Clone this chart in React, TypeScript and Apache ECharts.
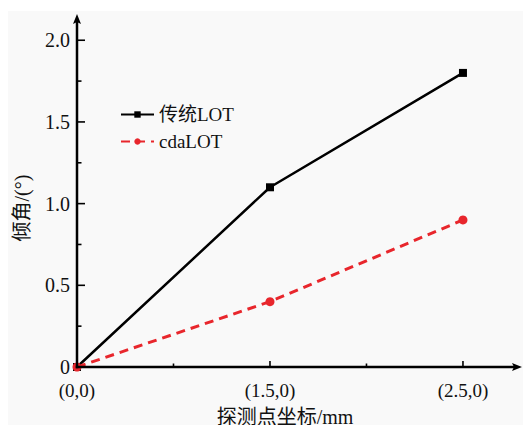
import React, { useEffect, useRef } from "react";
import * as echarts from "echarts";

const xCategories = ["(0,0)", "(1.5,0)", "(2.5,0)"];
const seriesNames = ["传统LOT", "cdaLOT"];
const traditionalValues = [0, 1.1, 1.8];
const cdaValues = [0, 0.4, 0.9];
const yMajorTicks = [0, 0.5, 1.0, 1.5, 2.0];
const yMinorTicks = [0.25, 0.75, 1.25, 1.75];
const xMajorTicks = [0, 1, 2];
const xMinorTicks = [0.5, 1.5];
const yAxisName = "倾角/(°)";
const xAxisName = "探测点坐标/mm";

const FONT = "'Liberation Serif', 'Times New Roman', 'Noto Sans CJK SC', serif";

const OX = 8;
const OY = 11;
const X_MAX = 2.28;
const Y_MAX = 2.13;

export default function App() {
  const ref = useRef<HTMLDivElement>(null);
  useEffect(() => {
    if (!ref.current) return;
    const chart = echarts.init(ref.current, null, { renderer: "svg" });
    const toData = (vals: number[]) => xCategories.map((_, i) => [i, vals[i]]);
    chart.setOption({
      animation: false,
      backgroundColor: "#f9f9f9",
      textStyle: { fontFamily: FONT },
      grid: { left: 77 - OX, right: 6, top: 19 - OY, bottom: 58 },
      legend: {
        orient: "vertical",
        left: 115 - OX,
        top: 100 - OY,
        itemWidth: 33,
        itemHeight: 8,
        itemGap: 8,
        textStyle: { fontFamily: FONT, fontSize: 19, color: "#111", lineHeight: 19 },
        data: seriesNames,
      },
      xAxis: {
        type: "value",
        min: 0,
        max: X_MAX,
        splitLine: { show: false },
        axisLine: { show: false },
        axisTick: { show: false },
        axisLabel: {
          show: true,
          customValues: xMajorTicks,
          margin: 14,
          fontFamily: FONT,
          fontSize: 19,
          color: "#111",
          formatter: (v: number) => xCategories[Math.round(v)] ?? "",
        },
      },
      yAxis: {
        type: "value",
        min: 0,
        max: Y_MAX,
        splitLine: { show: false },
        axisLine: { show: false },
        axisTick: { show: false },
        axisLabel: {
          show: true,
          customValues: yMajorTicks,
          margin: 7,
          fontFamily: FONT,
          fontSize: 20,
          color: "#111",
          formatter: (v: number) => (v === 0 ? "0" : v.toFixed(1)),
        },
      },
      series: [
        {
          name: seriesNames[0],
          type: "line",
          data: toData(traditionalValues),
          symbol: "rect",
          symbolSize: 8,
          color: "#000",
          lineStyle: { color: "#000", width: 2.5 },
          itemStyle: { color: "#000" },
          z: 3,
        },
        {
          name: seriesNames[1],
          type: "line",
          data: toData(cdaValues),
          symbol: "circle",
          symbolSize: 9,
          color: "#e8262c",
          lineStyle: { color: "#e8262c", width: 3, type: [9, 6] },
          itemStyle: { color: "#e8262c" },
          z: 3,
        },
      ],
    });

    // axis lines, ticks and arrows, positioned through the chart's own scales
    const px = (x: number, y: number) =>
      chart.convertToPixel({ xAxisIndex: 0, yAxisIndex: 0 }, [x, y]) as number[];
    const [x0, y0] = px(0, 0);
    const [, yTop] = px(0, Y_MAX);
    const [xEnd] = px(X_MAX, 0);
    const black = "#000000";
    const lineEl = (x1: number, y1: number, x2: number, y2: number, w: number) => ({
      type: "line",
      z: 10,
      silent: true,
      shape: { x1, y1, x2, y2 },
      style: { stroke: black, lineWidth: w },
    });
    const els: any[] = [];
    els.push(lineEl(x0, y0 + 1.25, x0, yTop, 2.5));
    els.push(lineEl(x0 - 1.25, y0, xEnd, y0, 2.5));
    els.push({
      type: "polygon",
      z: 10,
      silent: true,
      shape: { points: [[x0, yTop - 5], [x0 - 4, yTop + 5], [x0, yTop + 3], [x0 + 4, yTop + 5]] },
      style: { fill: black },
    });
    els.push({
      type: "polygon",
      z: 10,
      silent: true,
      shape: { points: [[xEnd + 5, y0], [xEnd - 5, y0 - 4], [xEnd - 3, y0], [xEnd - 5, y0 + 4]] },
      style: { fill: black },
    });
    yMajorTicks.forEach((v) => {
      const [, py] = px(0, v);
      if (v > 0) els.push(lineEl(x0, py, x0 + 8, py, 1.6));
    });
    yMinorTicks.forEach((v) => {
      const [, py] = px(0, v);
      els.push(lineEl(x0, py, x0 + 4.5, py, 1.6));
    });
    xMajorTicks.forEach((v) => {
      const [qx] = px(v, 0);
      if (v > 0) els.push(lineEl(qx, y0, qx, y0 - 6, 1.6));
    });
    xMinorTicks.forEach((v) => {
      const [qx] = px(v, 0);
      els.push(lineEl(qx, y0, qx, y0 - 3.5, 1.6));
    });
    els.push({
      type: "text",
      x: 22 - OX,
      y: 208 - OY,
      rotation: Math.PI / 2,
      style: {
        text: yAxisName,
        fontFamily: FONT,
        fontSize: 20,
        fill: "#111",
        align: "center",
        verticalAlign: "middle",
      },
    });
    els.push({
      type: "text",
      x: 285 - OX,
      y: 417 - OY,
      style: {
        text: xAxisName,
        fontFamily: FONT,
        fontSize: 20,
        fill: "#111",
        align: "center",
        verticalAlign: "middle",
      },
    });
    chart.setOption({ graphic: els });
    return () => chart.dispose();
  }, []);
  return (
    <div style={{ position: "fixed", left: 0, top: 0, width: 523, height: 425, background: "#ffffff" }}>
      <div
        ref={ref}
        style={{ position: "absolute", left: OX, top: OY, width: 523 - OX, height: 425 - OY }}
      />
    </div>
  );
}
